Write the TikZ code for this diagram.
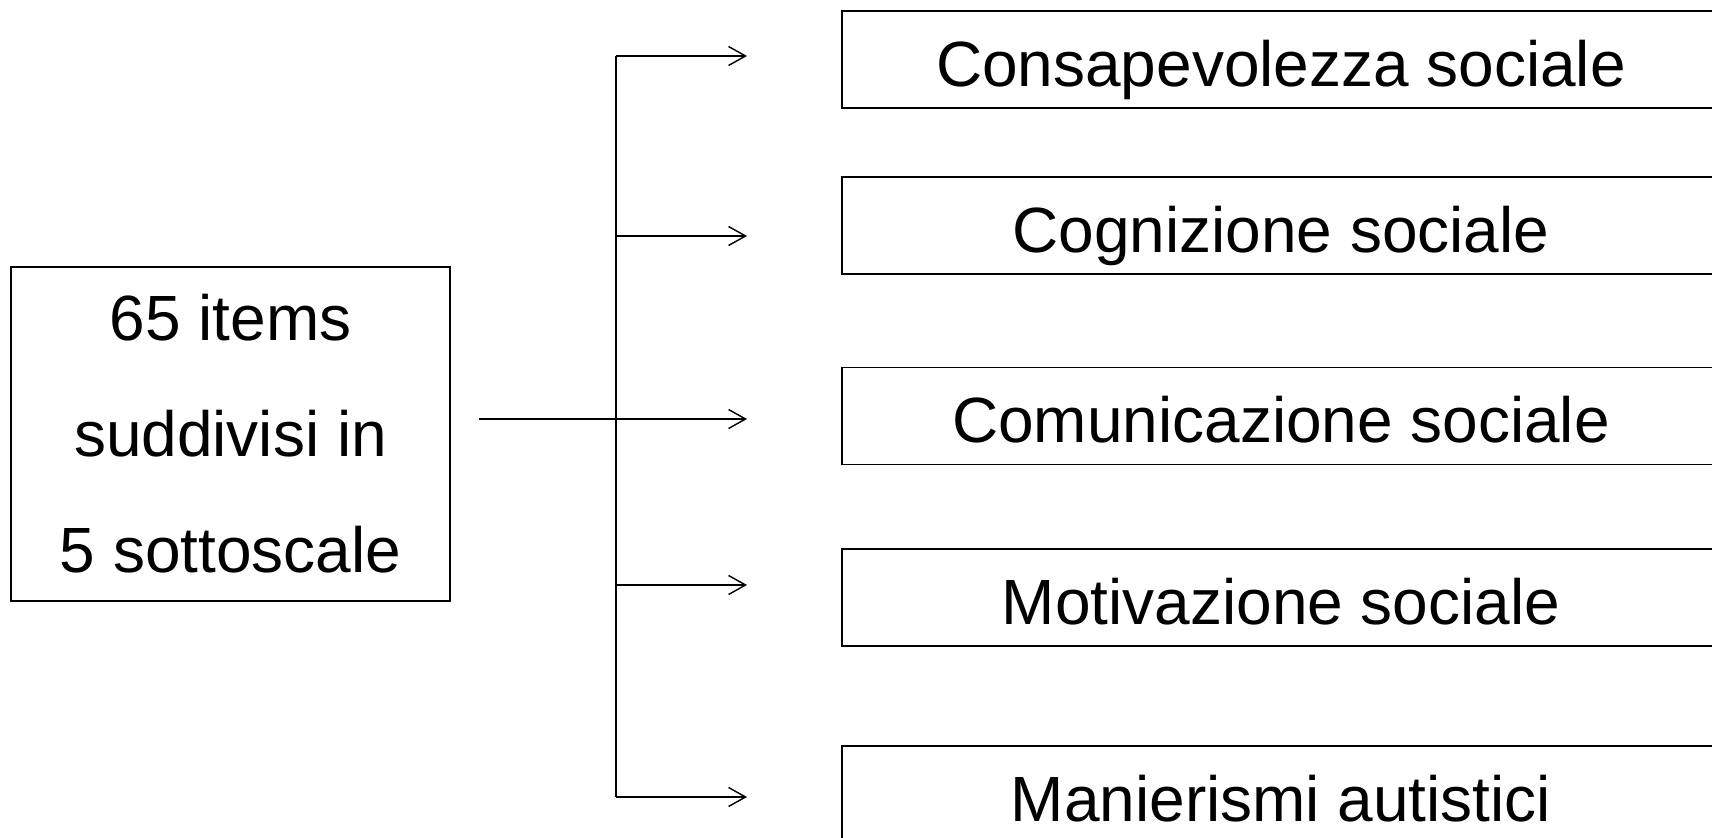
\documentclass[tikz,border=0pt]{standalone}
\usepackage{fontspec}
\setmainfont{Liberation Sans}
\usetikzlibrary{arrows.meta}
\tikzset{
  scalebox/.style={draw, minimum width=8.78cm, minimum height=0.97cm, inner sep=0pt,
    text height=0.56cm, text depth=0.02cm, font=\fontsize{18.2}{22}\selectfont},
  itembox/.style={draw, minimum width=4.39cm, minimum height=3.34cm, inner sep=0pt,
    align=center, font=\fontsize{18.2}{33}\selectfont}
}
\begin{document}
\begin{tikzpicture}[y=-1cm, line width=0.4pt, >={Straight Barb[length=0.17cm,width=0.19cm]}]
  \useasboundingbox (0,0) rectangle (17.12,8.38);
  \node[itembox] (items) at (2.305,4.34) {65 items\\suddivisi in\\5 sottoscale};
  \foreach \n/\y/\t in {cons/0.595/Consapevolezza sociale, cogn/2.255/Cognizione sociale,
      comu/4.16/Comunicazione sociale, moti/5.975/Motivazione sociale, mani/7.945/Manierismi autistici}
    \node[scalebox] (\n) at (12.81,\y) {\t};
  \foreach \n/\y in {a/0.56, b/2.36, c/4.19, d/5.85, e/7.97} {
    \coordinate (s\n) at (6.16,\y); \coordinate (t\n) at (7.47,\y);
    \draw[->] (s\n) -- (t\n);
  }
  \coordinate (from) at (4.79,4.19);
  \draw (from) -- (sc);
  \draw (sa) -- (se);
\end{tikzpicture}
\end{document}
